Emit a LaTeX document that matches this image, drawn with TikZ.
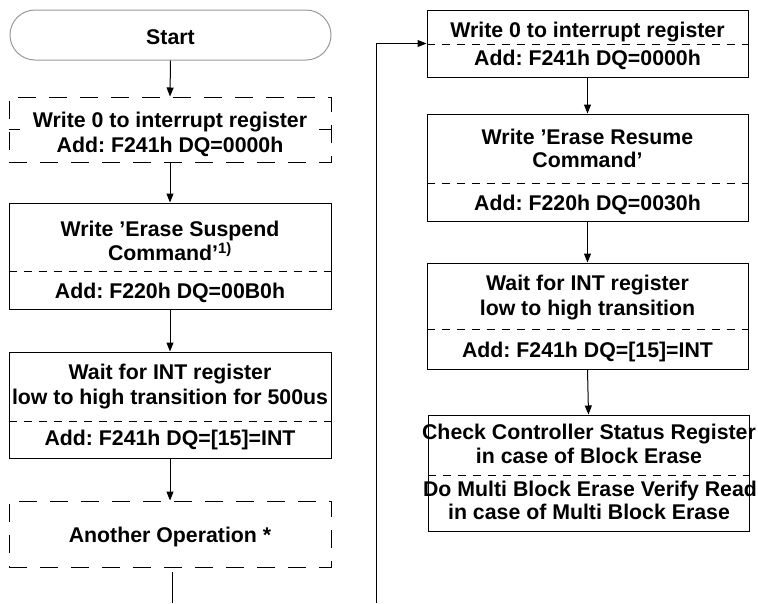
\documentclass[tikz,border=0pt]{standalone}
\usepackage{fontspec}
\setmainfont{Liberation Sans}
\usetikzlibrary{arrows.meta}
\frenchspacing
\tikzset{
  box/.style={draw, line width=1pt, minimum width=322pt, inner sep=0pt},
  dbox/.style={box, dash pattern=on 18pt off 13pt},
  startbox/.style={draw=black!40, line width=1pt, minimum width=321pt, minimum height=50pt, rounded corners=25pt, inner sep=0pt},
  txt/.style={font=\bfseries\fontsize{21.3}{25}\selectfont, anchor=base, inner sep=0pt},
  sepline/.style={line width=0.8pt, dash pattern=on 8pt off 7pt},
  conn/.style={line width=1pt},
  arr/.style={conn, -{Triangle[length=9pt,width=7pt]}},
}
\begin{document}
\begin{tikzpicture}[x=1pt,y=-1pt]
\useasboundingbox (0,0) rectangle (758,603);
% ---------- left column ----------
\node[startbox] (start) at (170.5,35) {};
\node[txt] (tstart) at (170.5,44.6) {Start};

\node[dbox, minimum height=65pt] (w0L) at (170,129.5) {};
\draw[conn, line width=0.8pt] (w0L.west) -- ++(11,0);
\draw[conn, line width=0.8pt] (w0L.east) -- ++(-13,0);
\node[txt] (w0La) at (170,127.6) {Write 0 to interrupt register};
\node[txt] (w0Lb) at (170,152.6) {Add: F241h DQ=0000h};

\node[box, minimum height=106pt] (susp) at (170,256) {};
\node[txt] (suspa) at (170,236.6) {Write ’Erase Suspend};
\node[txt] (suspb) at (170,260.6) {Command’\textsuperscript{1)}};
\draw[sepline] (susp.west |- 0,271) -- (susp.east |- 0,271);
\node[txt] (suspc) at (170,298.6) {Add: F220h DQ=00B0h};

\node[box, minimum height=106pt] (waitL) at (170,405) {};
\node[txt] (waitLa) at (170,379.6) {Wait for INT register};
\node[txt] (waitLb) at (170,404.6) {low to high transition for 500us};
\draw[sepline] (waitL.west |- 0,421) -- (waitL.east |- 0,421);
\node[txt] (waitLc) at (170,445.6) {Add: F241h DQ=[15]=INT};

\node[dbox, minimum height=66pt] (another) at (170,534) {};
\node[txt] (anothera) at (170,542.6) {Another Operation *};

\draw[arr] (start.south) -- (w0L.north);
\draw[arr] (w0L.south) -- (susp.north);
\draw[arr] (susp.south) -- (waitL.north);
\draw[arr] (waitL.south) -- (another.north);
\coordinate (aL) at (172,572);
\coordinate (bL) at (172,603);
\draw[conn] (aL) -- (bL);

% ---------- right column ----------
\node[box, minimum width=321pt, minimum height=67pt] (R1) at (587.5,43.5) {};
\draw[sepline] (R1.west |- 0,44) -- (R1.east |- 0,44);
\node[txt] (R1a) at (587.5,37.6) {Write 0 to interrupt register};
\node[txt] (R1b) at (587.5,65.6) {Add: F241h DQ=0000h};

\node[box, minimum width=321pt, minimum height=107pt] (R2) at (587.5,167.5) {};
\node[txt] (R2a) at (587.5,144.6) {Write ’Erase Resume};
\node[txt] (R2b) at (587.5,167.6) {Command’};
\draw[sepline] (R2.west |- 0,183) -- (R2.east |- 0,183);
\node[txt] (R2c) at (587.5,210.6) {Add: F220h DQ=0030h};

\node[box, minimum width=321pt, minimum height=106pt] (R3) at (587.5,316) {};
\node[txt] (R3a) at (587.5,290.6) {Wait for INT register};
\node[txt] (R3b) at (587.5,315.6) {low to high transition};
\draw[sepline] (R3.west |- 0,329) -- (R3.east |- 0,329);
\node[txt] (R3c) at (587.5,357.6) {Add: F241h DQ=[15]=INT};

\node[box, minimum width=321pt, minimum height=116pt] (R4) at (588.5,473) {};
\node[txt] (R4a) at (589,439.6) {Check Controller Status Register};
\node[txt] (R4b) at (589,463.6) {in case of Block Erase};
\draw[sepline] (R4.west |- 0,475) -- (R4.east |- 0,475);
\node[txt] (R4c) at (590,496.6) {Do Multi Block Erase Verify Read};
\node[txt] (R4d) at (589,519.6) {in case of Multi Block Erase};

\draw[arr] (R1.south) -- (R2.north);
\draw[arr] (R2.south) -- (R3.north);
\draw[arr] (R3.south) -- (R4.north);
\coordinate (bR) at (376,603);
\draw[arr] (bR) |- (R1.west);
\end{tikzpicture}
\end{document}
